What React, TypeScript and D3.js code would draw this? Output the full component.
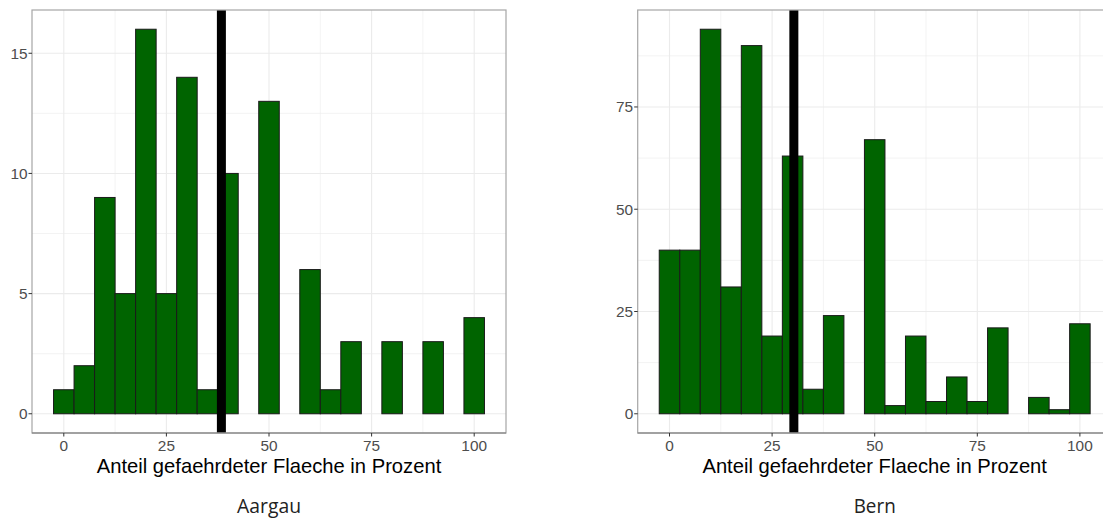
import React from "react";
import * as d3 from "d3";

const binCenters = [0, 5, 10, 15, 20, 25, 30, 35, 40, 45, 50, 55, 60, 65, 70, 75, 80, 85, 90, 95, 100];
const aargauCounts = [1, 2, 9, 5, 16, 5, 14, 1, 10, 0, 13, 0, 6, 1, 3, 0, 3, 0, 3, 0, 4];
const bernCounts = [40, 40, 94, 31, 90, 19, 63, 6, 24, 0, 67, 2, 19, 3, 9, 3, 21, 0, 4, 1, 22];
const aargauMean = 38.4;
const bernMean = 30.3;
const xTicks = [0, 25, 50, 75, 100];
const aargauYTicks = [0, 5, 10, 15];
const bernYTicks = [0, 25, 50, 75];
const xTitle = "Anteil gefaehrdeter Flaeche in Prozent";
const panelNames = ["Aargau", "Bern"];

const BIN = 5;
const TOP = 10;
const BOTTOM = 433;
const PW = 474;

function Panel({ left, counts, yTicks, mean, name, capW }: any) {
  const xMin = binCenters[0] - BIN / 2;
  const xMax = binCenters[binCenters.length - 1] + BIN / 2;
  const xPad = (xMax - xMin) * 0.05;
  const x = d3.scaleLinear().domain([xMin - xPad, xMax + xPad]).range([left, left + PW]);
  const yMax = d3.max(counts as number[]) as number;
  const yPad = yMax * 0.05;
  const y = d3.scaleLinear().domain([-yPad, yMax + yPad]).range([BOTTOM, TOP]);
  const xMinor = xTicks.slice(0, -1).map((t, i) => (t + xTicks[i + 1]) / 2);
  const step = yTicks[1] - yTicks[0];
  const yMinor = yTicks.map((t) => t + step / 2).filter((v) => y(v) > TOP);
  const grid = "#ebebeb";
  const cx = left + PW / 2;
  return (
    <g>
      {xMinor.map((v) => (
        <line key={"xm" + v} x1={x(v)} x2={x(v)} y1={TOP} y2={BOTTOM} stroke={grid} strokeWidth={0.6} />
      ))}
      {yMinor.map((v) => (
        <line key={"ym" + v} x1={left} x2={left + PW} y1={y(v)} y2={y(v)} stroke={grid} strokeWidth={0.6} />
      ))}
      {xTicks.map((v) => (
        <line key={"xM" + v} x1={x(v)} x2={x(v)} y1={TOP} y2={BOTTOM} stroke={grid} strokeWidth={1.1} />
      ))}
      {yTicks.map((v) => (
        <line key={"yM" + v} x1={left} x2={left + PW} y1={y(v)} y2={y(v)} stroke={grid} strokeWidth={1.1} />
      ))}
      {binCenters.map((c, i) => (
        <rect
          key={"b" + c}
          x={x(c - BIN / 2)}
          y={y(counts[i])}
          width={x(c + BIN / 2) - x(c - BIN / 2)}
          height={y(0) - y(counts[i])}
          fill="#006400"
          stroke="#1a1a1a"
          strokeWidth={1}
        />
      ))}
      <line x1={x(mean)} x2={x(mean)} y1={TOP} y2={BOTTOM} stroke="#000" strokeWidth={9} />
      <rect x={left} y={TOP} width={PW} height={BOTTOM - TOP} fill="none" stroke="#a6a6a6" strokeWidth={1.2} />
      <line x1={left} x2={left + PW} y1={BOTTOM} y2={BOTTOM} stroke="#7a7a7a" strokeWidth={1.2} />
      {xTicks.map((v) => (
        <g key={"xt" + v}>
          <line x1={x(v)} x2={x(v)} y1={BOTTOM} y2={BOTTOM + 3.5} stroke="#333" strokeWidth={1} />
          <text x={x(v)} y={451} textAnchor="middle" fontSize={15.4} fill="#4d4d4d" fontFamily="Liberation Sans, Arial, sans-serif">
            {v}
          </text>
        </g>
      ))}
      {yTicks.map((v) => (
        <g key={"yt" + v}>
          <line x1={left - 3.5} x2={left} y1={y(v)} y2={y(v)} stroke="#333" strokeWidth={1} />
          <text x={left - 4.5} y={y(v)} dy="0.36em" textAnchor="end" fontSize={15.4} fill="#4d4d4d" fontFamily="Liberation Sans, Arial, sans-serif">
            {v}
          </text>
        </g>
      ))}
      <text x={cx} y={472.5} textAnchor="middle" fontSize={20.2} fill="#000" fontFamily="Liberation Sans, Arial, sans-serif">
        {xTitle}
      </text>
      <text
        x={cx}
        y={513}
        textAnchor="middle"
        fontSize={20}
        fill="#222"
        fontFamily="Open Sans, sans-serif"
        textLength={capW}
        lengthAdjust="spacingAndGlyphs"
      >
        {name}
      </text>
    </g>
  );
}

export default function App() {
  return (
    <svg width={1103} height={518} style={{ position: "absolute", left: 0, top: 0, background: "#fff" }}>
      <rect x={0} y={0} width={1103} height={518} fill="#fff" />
      <Panel left={32} counts={aargauCounts} yTicks={aargauYTicks} mean={aargauMean} name={panelNames[0]} capW={64} />
      <Panel left={637.7} counts={bernCounts} yTicks={bernYTicks} mean={bernMean} name={panelNames[1]} capW={42} />
    </svg>
  );
}
